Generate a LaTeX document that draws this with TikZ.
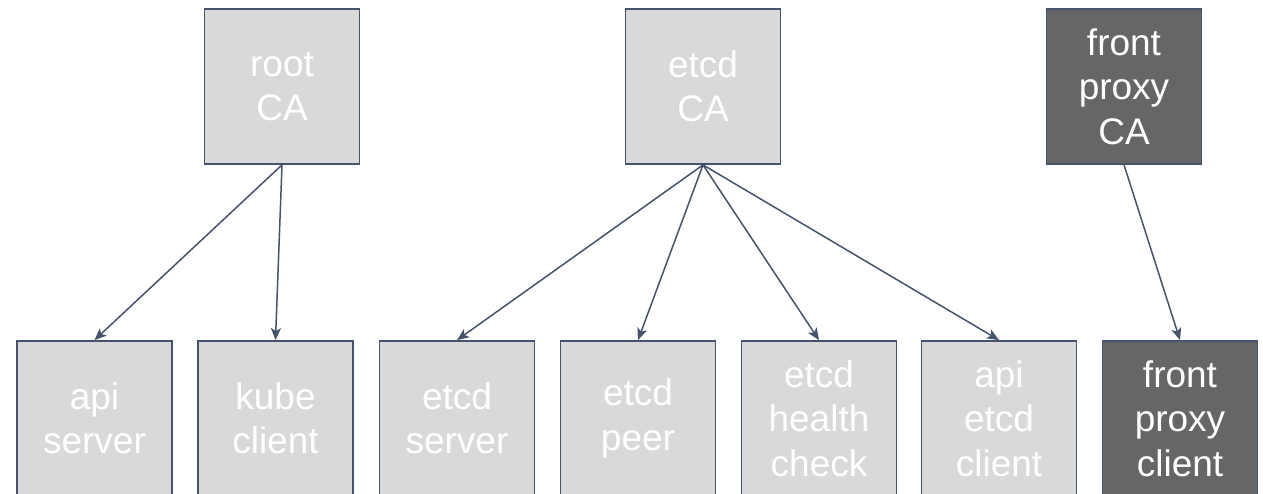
\documentclass[tikz,border=0pt]{standalone}
\usepackage{fontspec}
\setmainfont{Liberation Sans}
\usetikzlibrary{arrows.meta}
\definecolor{edgec}{HTML}{45536B}
\definecolor{lightc}{HTML}{D9D9D9}
\definecolor{darkc}{HTML}{666666}
\begin{document}
\begin{tikzpicture}[x=1pt,y=-1pt,
  box/.style={draw=edgec, line width=1.8pt, fill=lightc, minimum width=155pt, minimum height=155pt, inner sep=0pt, text=white, align=center, font=\fontsize{37}{44.5}\selectfont},
  darkbox/.style={box, fill=darkc},
  arr/.style={draw=edgec, line width=1.5pt, -{Stealth[length=12pt,width=10pt,inset=3pt]}}]
\clip (0,0) rectangle (1263,494);
\useasboundingbox (0,0) rectangle (1263,494);
\node[box] (root) at (282,86.5) {root\\CA};
\node[box] (etcd) at (703,86.5) {etcd\\CA};
\node[darkbox] (fpca) at (1124,86.5) {front\\proxy\\CA};
\node[box] (api) at (94.5,418.5) {api\\server};
\node[box] (kube) at (275.5,418.5) {kube\\client};
\node[box] (eserver) at (457,418.5) {etcd\\server};
\node[box] (epeer) at (638,418.5) {etcd\\peer};
\node[box] (ehealth) at (819,418.5) {etcd\\health\\check};
\node[box] (apietcd) at (999,418.5) {api\\etcd\\client};
\node[darkbox] (fpclient) at (1180,418.5) {front\\proxy\\client};
\draw[arr] (root.south) -- (api.north);
\draw[arr] (root.south) -- (kube.north);
\draw[arr] (etcd.south) -- (eserver.north);
\draw[arr] (etcd.south) -- (epeer.north);
\draw[arr] (etcd.south) -- (ehealth.north);
\draw[arr] (etcd.south) -- (apietcd.north);
\draw[arr] (fpca.south) -- (fpclient.north);
\end{tikzpicture}
\end{document}
